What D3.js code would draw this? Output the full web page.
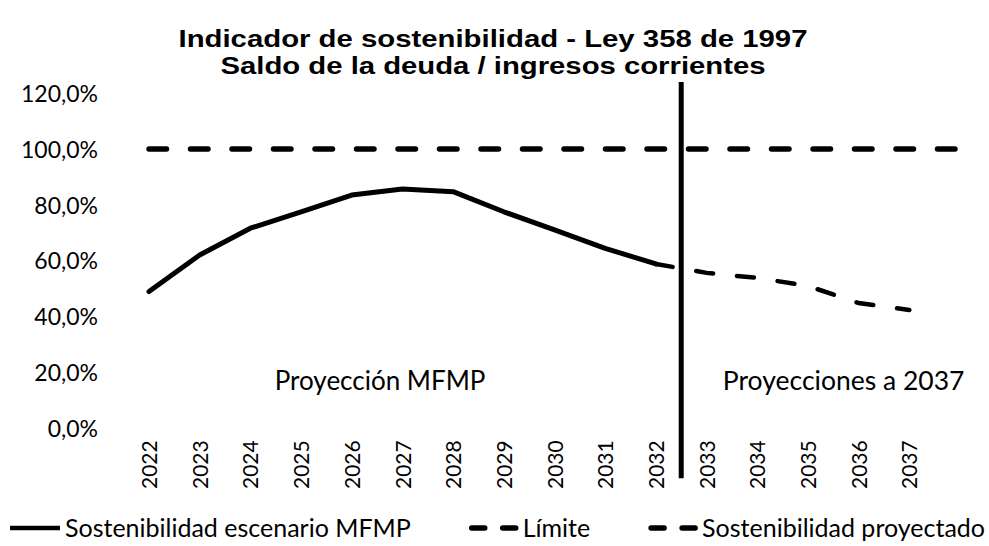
<!DOCTYPE html>
<html>
<head>
<meta charset="utf-8">
<script src="https://cdn.jsdelivr.net/npm/d3@7"></script>
<style>
  body { margin: 0; background: #fff; }
  text { font-family: Lato, "Open Sans", sans-serif; fill: #000; }
</style>
</head>
<body>
<div id="chart"></div>
<script>
// categories (last one is blank, the limit line runs one step further)
const years = ["2022", "2023", "2024", "2025", "2026", "2027", "2028", "2029",
               "2030", "2031", "2032", "2033", "2034", "2035", "2036", "2037", ""];
// Sostenibilidad escenario MFMP (2022-2032)
const mfmp = [0.489, 0.620, 0.716, 0.775, 0.835, 0.857, 0.847, 0.775, 0.710, 0.644, 0.588];
// Sostenibilidad proyectado (2032-2037)
const projected = [null, null, null, null, null, null, null, null, null, null,
                   0.588, 0.556, 0.538, 0.509, 0.448, 0.423];
// Límite
const limit = [1, 1, 1, 1, 1, 1, 1, 1, 1, 1, 1, 1, 1, 1, 1, 1, 1];
const yTicks = [0, 0.2, 0.4, 0.6, 0.8, 1.0, 1.2];
const titleLines = ["Indicador de sostenibilidad - Ley 358 de 1997",
                    "Saldo de la deuda / ingresos corrientes"];
const legendLabels = ["Sostenibilidad escenario MFMP", "Límite", "Sostenibilidad proyectado"];

const w = 989, h = 546;

const svg = d3.select("#chart").append("svg")
    .attr("width", w)
    .attr("height", h);

const xScale = d3.scalePoint().domain(years).range([149, 960]);
const yScale = d3.scaleLinear().domain([0, 1.2]).range([428, 93.2]);

const es = d3.formatLocale({decimal: ",", thousands: ".", grouping: [3], currency: ["$", ""]});
const pct = es.format(".1%");

// title
svg.selectAll(".title")
    .data(titleLines)
    .enter()
    .append("text")
    .attr("class", "title")
    .attr("x", 493)
    .attr("y", (d, i) => 47 + i * 26.5)
    .attr("text-anchor", "middle")
    .style("font-family", "'Liberation Sans', Arial, sans-serif")
    .style("font-weight", "bold")
    .style("font-size", "23.5px")
    .attr("textLength", (d, i) => i === 0 ? 629 : 545)
    .attr("lengthAdjust", "spacingAndGlyphs")
    .text(d => d);

// y axis
svg.append("g")
    .attr("id", "y-axis")
    .attr("transform", "translate(98,0)")
    .call(d3.axisLeft(yScale).tickValues(yTicks).tickFormat(pct).tickSize(0).tickPadding(0))
    .call(g => g.select(".domain").remove())
    .selectAll("text")
    .attr("dy", "0.36em")
    .style("font-size", "23px");

// x axis, rotated labels
svg.append("g")
    .attr("id", "x-axis")
    .attr("transform", "translate(0,489)")
    .call(d3.axisBottom(xScale).tickValues(years.filter(d => d)).tickSize(0))
    .call(g => g.select(".domain").remove())
    .selectAll("text")
    .attr("transform", "rotate(-90)")
    .attr("x", 0)
    .attr("y", 0)
    .attr("dy", "0.36em")
    .style("text-anchor", "start")
    .style("font-size", "21px");

const line = d3.line()
    .defined(d => d[1] != null)
    .x(d => xScale(d[0]))
    .y(d => yScale(d[1]));

// Límite
svg.append("path")
    .datum(years.map((y, i) => [y, limit[i]]))
    .attr("d", line)
    .attr("fill", "none")
    .attr("stroke", "#000")
    .attr("stroke-width", 5.5)
    .attr("stroke-linecap", "round")
    .attr("stroke-dasharray", "17.5,24");

// MFMP
svg.append("path")
    .datum(years.map((y, i) => [y, mfmp[i]]))
    .attr("d", line)
    .attr("fill", "none")
    .attr("stroke", "#000")
    .attr("stroke-width", 5)
    .attr("stroke-linejoin", "round")
    .attr("stroke-linecap", "round");

// proyectado
svg.append("path")
    .datum(years.map((y, i) => [y, projected[i]]))
    .attr("d", line)
    .attr("fill", "none")
    .attr("stroke", "#000")
    .attr("stroke-width", 4.5)
    .attr("stroke-linecap", "round")
    .attr("stroke-dasharray", "17,24");

// divider between MFMP and projections
const xDiv = (xScale("2032") + xScale("2033")) / 2;
svg.append("line")
    .attr("x1", xDiv).attr("x2", xDiv)
    .attr("y1", yScale(1.24)).attr("y2", yScale(-0.18))
    .attr("stroke", "#000")
    .attr("stroke-width", 5);

// section labels
svg.append("text")
    .attr("x", (xScale("2026") + xScale("2027")) / 2 + 3)
    .attr("y", yScale(0.135))
    .attr("text-anchor", "middle")
    .style("font-size", "26px")
    .text("Proyección MFMP");

svg.append("text")
    .attr("x", xScale("2036") - 15)
    .attr("y", yScale(0.135))
    .attr("text-anchor", "middle")
    .style("font-size", "26.5px")
    .text("Proyecciones a 2037");

// legend
const legY = 528, symW = 50, symGap = 5;
const leg = svg.append("g").attr("id", "legend");
const items = legendLabels.map((d, i) => {
    const g = leg.append("g");
    const sym = g.append("line")
        .attr("x1", 0).attr("x2", symW)
        .attr("y1", legY).attr("y2", legY)
        .attr("stroke", "#000")
        .attr("stroke-width", i === 0 ? 4.5 : 5.5)
        .attr("stroke-linecap", i === 0 ? "butt" : "round");
    if (i > 0) sym.attr("x1", 4).attr("x2", symW - 2).attr("stroke-dasharray", "13,18");
    const t = g.append("text")
        .attr("x", symW + symGap)
        .attr("y", legY)
        .attr("dy", "0.35em")
        .style("font-size", "25px")
        .text(d);
    return {g: g, width: symW + symGap + t.node().getComputedTextLength()};
});
const totalW = d3.sum(items, d => d.width);
const between = (975 - totalW) / (items.length - 1);
let cx = 10;
items.forEach(it => {
    it.g.attr("transform", `translate(${cx},0)`);
    cx += it.width + between;
});
</script>
</body>
</html>
